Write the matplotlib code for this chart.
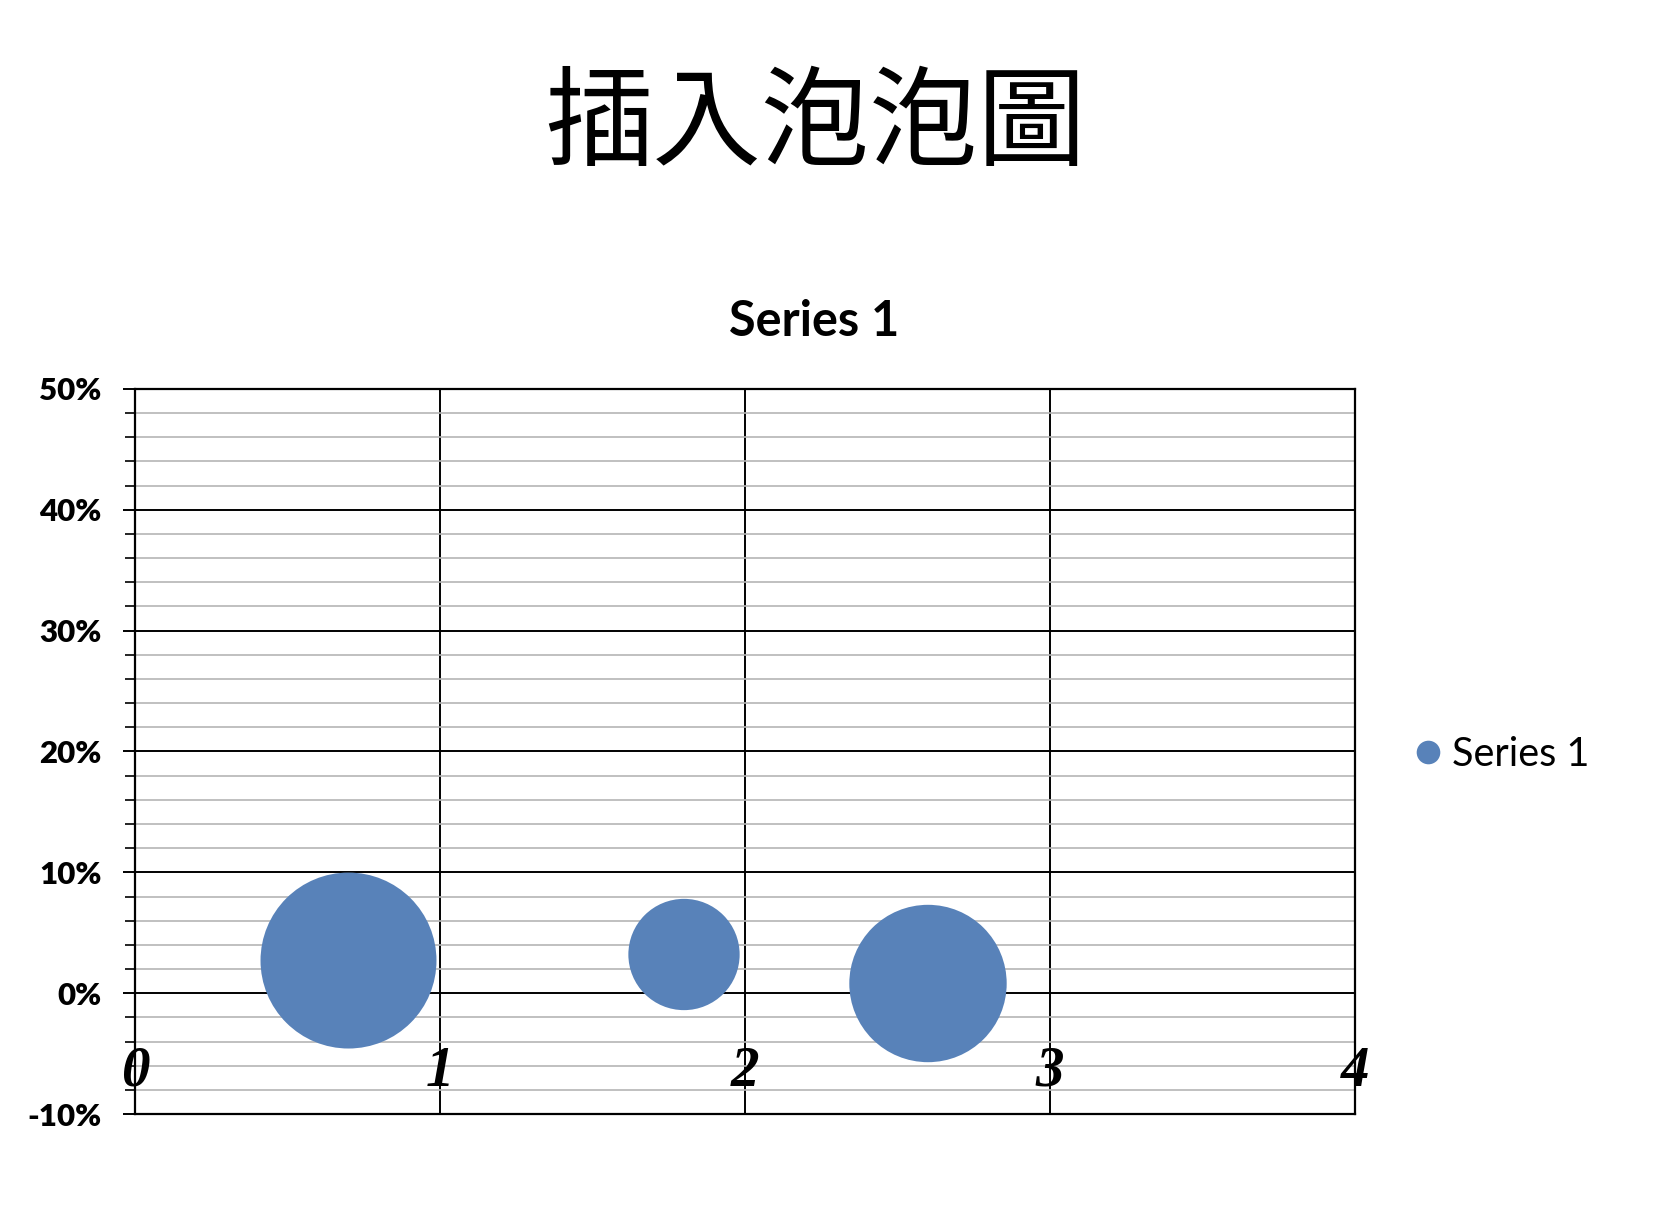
import matplotlib
matplotlib.use("Agg")
import matplotlib.pyplot as plt
from matplotlib.lines import Line2D
from matplotlib.ticker import FuncFormatter, MultipleLocator
import matplotlib.transforms as mtransforms

# ---- data ----
title_text = "插入泡泡圖"
series_name = "Series 1"
x_values = [0.7, 1.8, 2.6]
y_values = [0.027, 0.032, 0.008]
bubble_sizes = [10, 4, 8]
x_ticks = [0, 1, 2, 3, 4]
x_tick_labels = ["0", "1", "2", "3", "4"]
y_ticks = [-0.1, 0.0, 0.1, 0.2, 0.3, 0.4, 0.5]

BLUE = "#5882B9"
W, H = 1656, 1230
fig = plt.figure(figsize=(W / 100, H / 100), dpi=100)

ax = fig.add_axes([135 / W, 1 - 1114 / H, (1355 - 135) / W, (1114 - 389) / H])
ax.set_xlim(0, 4)
ax.set_ylim(-0.1, 0.5)

# gridlines
ax.yaxis.set_minor_locator(MultipleLocator(0.02))
ax.set_yticks(y_ticks)
ax.set_xticks(x_ticks)
ax.grid(True, which="major", axis="both", color="black", linewidth=1.4, zorder=0)
ax.grid(True, which="minor", axis="y", color="#B5B5B5", linewidth=1.2, zorder=0)
ax.set_axisbelow(True)

for s in ax.spines.values():
    s.set_linewidth(1.6)
    s.set_color("black")

# bubbles (area proportional to size)
k = 1605.0
ax.scatter(x_values, y_values, s=[k * v for v in bubble_sizes], color=BLUE,
           edgecolors="none", zorder=3, clip_on=False)

# y axis
ax.yaxis.set_major_formatter(FuncFormatter(lambda v, p: f"{v * 100:.0f}%"))
ax.tick_params(axis="y", which="major", direction="out", length=8.6, width=1.4,
               pad=15.5, labelsize=22.5)
ax.tick_params(axis="y", which="minor", direction="out", length=7.2, width=1.2)
for lab in ax.get_yticklabels():
    lab.set_fontfamily("Lato")
    lab.set_fontweight("heavy")

# x axis: labels drawn inside the plot area
ax.tick_params(axis="x", which="both", length=0, labelbottom=False)
trans = mtransforms.blended_transform_factory(ax.transData, ax.transAxes)
for xv, lab in zip(x_ticks, x_tick_labels):
    ax.text(xv, (1114 - 1072) / (1114 - 389), lab, transform=trans,
            ha="center", va="center", fontsize=41, fontstyle="italic",
            fontweight="bold", family="Liberation Serif", zorder=4)

# titles
fig.text(815 / W, 1 - 126 / H, title_text, ha="center", va="center",
         fontsize=78, family=["Noto Sans CJK TC", "DejaVu Sans"])
fig.text(814 / W, 1 - 321 / H, series_name, ha="center", va="center",
         fontsize=35, fontweight="bold", family="Lato")

# legend
handle = Line2D([], [], marker="o", linestyle="", color=BLUE, markersize=17,
                markeredgewidth=0)
fig.legend([handle], [series_name], loc="center left",
           bbox_to_anchor=(1408.5 / W, 1 - 754 / H), frameon=False,
           handlelength=1.0, handletextpad=0.1, borderpad=0, borderaxespad=0,
           prop={"family": "Lato", "size": 28.5})

fig.savefig("out.png", dpi=100)
